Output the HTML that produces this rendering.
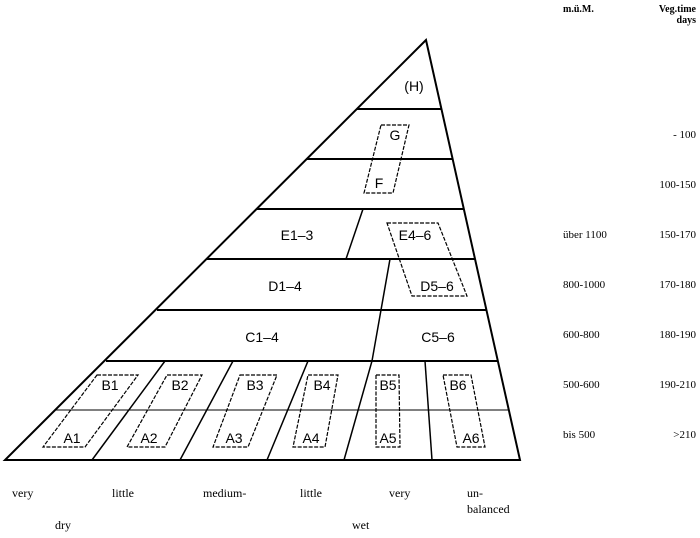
<!DOCTYPE html>
<html><head><meta charset="utf-8"><style>
body{margin:0;background:#fff;width:700px;height:538px;overflow:hidden}
svg{display:block}
.s{font-family:"Liberation Sans",sans-serif;font-size:14px}
.r{font-family:"Liberation Serif",serif;font-size:11px}
</style></head><body>
<svg width="700" height="538" viewBox="0 0 700 538">
<g stroke="#000" fill="none">
<polygon points="426,40 5,460 520,460" stroke-width="2"/>
<line x1="357" y1="109" x2="441" y2="109" stroke-width="2"/>
<line x1="307" y1="159" x2="453" y2="159" stroke-width="2"/>
<line x1="257" y1="209" x2="464" y2="209" stroke-width="2"/>
<line x1="207" y1="259" x2="475" y2="259" stroke-width="2"/>
<line x1="157" y1="310" x2="486" y2="310" stroke-width="2"/>
<line x1="106" y1="361" x2="497" y2="361" stroke-width="2"/>
<line x1="56" y1="410" x2="508" y2="410" stroke-width="1"/>
<line x1="363" y1="209" x2="346" y2="259" stroke-width="1.5"/>
<polyline points="390,259 372,361 344,460" stroke-width="1.5"/>
<line x1="165" y1="361" x2="92" y2="460" stroke-width="1.5"/>
<line x1="233" y1="361" x2="180" y2="460" stroke-width="1.5"/>
<line x1="308" y1="361" x2="267" y2="460" stroke-width="1.5"/>
<line x1="425" y1="361" x2="432" y2="460" stroke-width="1.5"/>
<g stroke-width="1.2" stroke-dasharray="4,1.5">
<polygon points="381,125 409,125 393,193 364,193"/>
<polygon points="387,223 438,223 467,296 412,296"/>
<polygon points="97,375 138,375 85,447 43,447"/>
<polygon points="167,375 202,375 165,447 127,447"/>
<polygon points="240,375 277,375 248,447 213,447"/>
<polygon points="308,375 338,375 325,447 293,447"/>
<polygon points="376,375 399,375 400,447 376,447"/>
<polygon points="443,375 471,375 485,447 457,447"/>
</g>
</g>
<g class="s" text-anchor="middle">
<text x="414" y="91">(H)</text>
<text x="395" y="140">G</text>
<text x="379" y="188">F</text>
<text x="297" y="240">E1–3</text>
<text x="415" y="240">E4–6</text>
<text x="285" y="291">D1–4</text>
<text x="437" y="291">D5–6</text>
<text x="262" y="342">C1–4</text>
<text x="438" y="342">C5–6</text>
<text x="110" y="390">B1</text><text x="180" y="390">B2</text><text x="255" y="390">B3</text><text x="322" y="390">B4</text><text x="388" y="390">B5</text><text x="458" y="390">B6</text>
<text x="72" y="443">A1</text><text x="149" y="443">A2</text><text x="234" y="443">A3</text><text x="311" y="443">A4</text><text x="388" y="443">A5</text><text x="471" y="443">A6</text>
</g>
<g class="r">
<text x="563" y="12" font-weight="bold" font-size="10">m.ü.M.</text>
<text x="696" y="12" font-weight="bold" font-size="10" text-anchor="end">Veg.time</text>
<text x="696" y="23" font-weight="bold" font-size="10" text-anchor="end">days</text>
<text x="563" y="238">über 1100</text>
<text x="563" y="288">800-1000</text>
<text x="563" y="338">600-800</text>
<text x="563" y="388">500-600</text>
<text x="563" y="438">bis 500</text>
<g text-anchor="end">
<text x="696" y="138">- 100</text>
<text x="696" y="188">100-150</text>
<text x="696" y="238">150-170</text>
<text x="696" y="288">170-180</text>
<text x="696" y="338">180-190</text>
<text x="696" y="388">190-210</text>
<text x="696" y="438">&gt;210</text>
</g>
<g font-size="12">
<text x="12" y="497">very</text>
<text x="112" y="497">little</text>
<text x="203" y="497">medium-</text>
<text x="300" y="497">little</text>
<text x="389" y="497">very</text>
<text x="467" y="497">un-</text>
<text x="467" y="513">balanced</text>
<text x="55" y="529">dry</text>
<text x="352" y="529">wet</text>
</g>
</g>
</svg>
</body></html>
